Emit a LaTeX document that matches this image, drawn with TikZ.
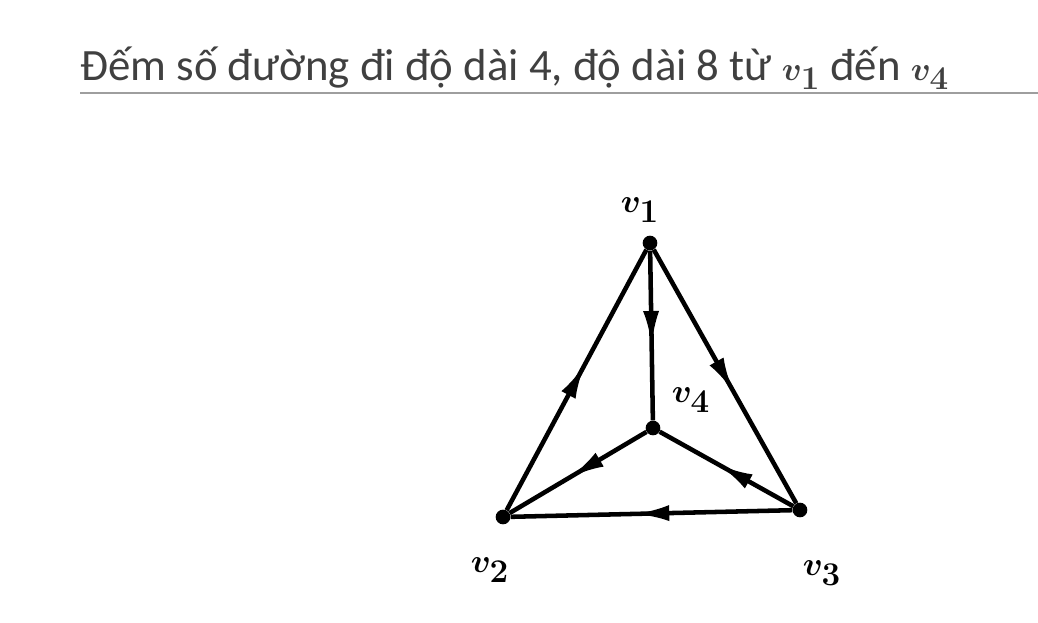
\documentclass[tikz,border=0pt]{standalone}
\usepackage{fontspec}
\setmainfont{Carlito}
\usetikzlibrary{arrows.meta,decorations.markings}
\begin{document}
\begin{tikzpicture}[x=0.75pt,y=-0.75pt,
  >={Latex[length=26pt,width=12pt]},
  vtx/.style={
    circle, fill=black, inner sep=0pt, minimum size=11pt
  },
  edge/.style={
    line width=3.4pt, postaction={decorate},
    decoration={markings,
      mark=at position 0.56 with {\arrow{>}}}
  },
  vlab/.style={font=\fontsize{34}{34}\selectfont\boldmath, inner sep=0pt}
]
\colorlet{Ctitle}{black!75}
\colorlet{Crule}{black!38}
\useasboundingbox (0,0) rectangle (1038,622);
%% TITLE
\node[anchor=base west, inner sep=0pt, text=Ctitle,
  font=\fontsize{33.6}{40}\selectfont] (title) at (80,80)
  {Đếm số đường đi độ dài 4, độ dài 8 từ {\boldmath$v_1$} đến {\boldmath$v_4$}};
\coordinate (ruleL) at (80,93);
\coordinate (ruleR) at (1038,93);
\draw[Crule, line width=1.5pt] (ruleL) -- (ruleR);
%% VERTICES
\node[vtx] (V1) at (650,243) {};
\node[vtx] (V2) at (503,517) {};
\node[vtx] (V3) at (800,510) {};
\node[vtx] (V4) at (653,428) {};
%% LABELS
\node[vlab] (L1) at (640,210) {$v_1$};
\node[vlab] (L2) at (490,570) {$v_2$};
\node[vlab] (L3) at (822,573) {$v_3$};
\node[vlab] (L4) at (691,400) {$v_4$};
%% EDGES
\draw[edge] (V1) -- (V4);
\draw[edge] (V1) -- (V3);
\draw[edge] (V2) -- (V1);
\draw[edge] (V4) -- (V2);
\draw[edge] (V3) -- (V4);
\draw[edge] (V3) -- (V2);
\end{tikzpicture}
\end{document}
